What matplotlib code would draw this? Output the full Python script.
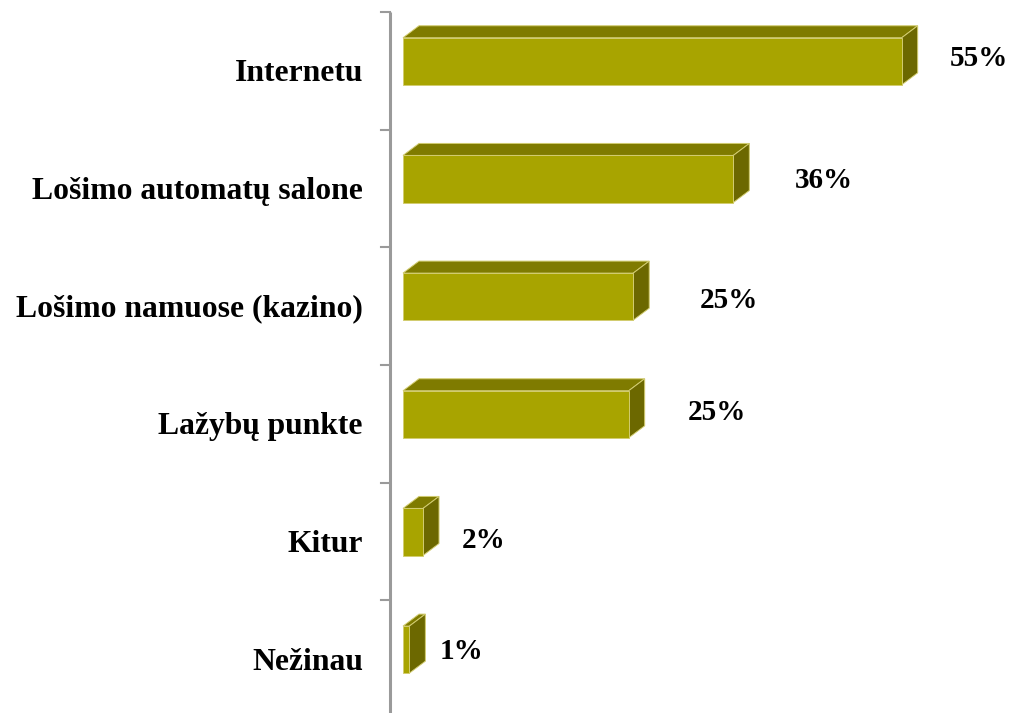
import matplotlib
matplotlib.use("Agg")
import matplotlib.pyplot as plt
from matplotlib.patches import Polygon
from matplotlib.transforms import blended_transform_factory

categories = ["Internetu", "Lošimo automatų salone", "Lošimo namuose (kazino)",
              "Lažybų punkte", "Kitur", "Nežinau"]
values = [54.8, 36.3, 25.3, 24.8, 2.2, 0.7]
value_labels = ["55%", "36%", "25%", "25%", "2%", "1%"]

# label nudges in pixels (layout only)
label_dx = [48, 61, 67, 59, 39, 30]
label_dy = [12, 8, 6, 11, 1, 8]

FRONT = "#a8a400"
TOP = "#7f7b00"
SIDE = "#6c6800"
EDGE = "#d2cc70"
AXIS = "#9a9a9a"

W, H, DPI = 1011, 713, 100
fig = plt.figure(figsize=(W / DPI, H / DPI), dpi=DPI)
fig.patch.set_facecolor("white")

ax_left_px, ax_top_px, ax_bottom_px = 390, 12, 718
ax = fig.add_axes([ax_left_px / W, (H - ax_bottom_px) / H,
                   (W - ax_left_px) / W, (ax_bottom_px - ax_top_px) / H])
px_per_unit = 9.1
x0_px = 403
ax.set_xlim((ax_left_px - x0_px) / px_per_unit, (W - x0_px) / px_per_unit)
n = len(categories)
ax.set_ylim(n - 0.5, -0.5)
ax.axis("off")

# vertical axis line
ax.plot([(ax_left_px - x0_px) / px_per_unit] * 2, [-0.5, n - 0.5],
        color=AXIS, lw=2.2, solid_capstyle="butt", clip_on=False, zorder=1)

fig.canvas.draw()
tr = ax.transData

bar_h = 0.40
bar_off = -0.081
dx, dy = 16, 12

for i, v in enumerate(values):
    xa, ya = tr.transform((0, i + bar_off + bar_h / 2))   # bottom-left
    xb, yb = tr.transform((v, i + bar_off - bar_h / 2))   # top-right
    front = [(xa, ya), (xb, ya), (xb, yb), (xa, yb)]
    top = [(xa, yb), (xb, yb), (xb + dx, yb + dy), (xa + dx, yb + dy)]
    side = [(xb, ya), (xb + dx, ya + dy), (xb + dx, yb + dy), (xb, yb)]
    for pts, c in ((top, TOP), (side, SIDE), (front, FRONT)):
        fig.add_artist(Polygon(pts, closed=True, facecolor=c, edgecolor=EDGE,
                               lw=0.7, transform=None, zorder=3))
    ax.annotate(value_labels[i], xy=(v, i), xytext=(label_dx[i], label_dy[i]),
                textcoords="offset pixels", ha="left", va="center",
                fontsize=21, fontweight="bold", family="Liberation Serif",
                annotation_clip=False)

bt = blended_transform_factory(ax.transAxes, ax.transData)
for i, c in enumerate(categories):
    ax.annotate(c, xy=(0, i), xycoords=bt, xytext=(-27, -3),
                textcoords="offset pixels", ha="right", va="center",
                fontsize=22.8, fontweight="bold", family="Liberation Serif",
                annotation_clip=False)

for b in range(n):
    xx, yy = bt.transform((0, b - 0.5))
    fig.add_artist(plt.Line2D([xx - 9, xx], [yy, yy], color=AXIS, lw=1.5,
                              transform=None))

fig.savefig("out.png", dpi=DPI, facecolor="white")
